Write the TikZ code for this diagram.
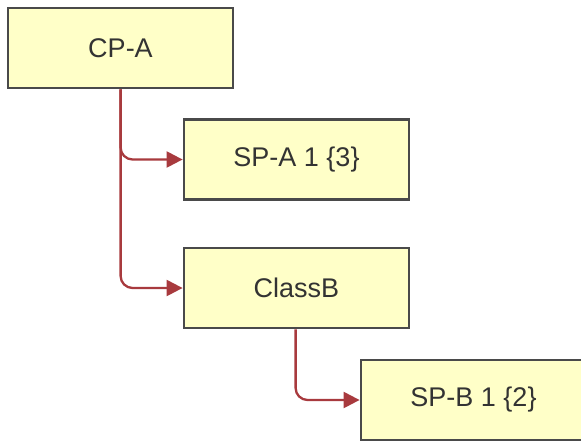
\documentclass[tikz,border=0pt]{standalone}
\usepackage{fontspec}
\setmainfont{Liberation Sans}
\usetikzlibrary{arrows.meta}
\definecolor{boxfill}{HTML}{FFFFC8}
\definecolor{boxline}{HTML}{4A4A4A}
\definecolor{conn}{HTML}{A83A3E}
\tikzset{
  classbox/.style={draw=boxline, line width=2.8pt, fill=boxfill, minimum width=225pt, minimum height=80pt, inner sep=0pt, font=\fontsize{27}{32}\selectfont, text=black!80},
  connector/.style={draw=conn, line width=2.3pt, rounded corners=12pt, -{Triangle[length=16pt,width=16pt]}}
}
\begin{document}
\begin{tikzpicture}[x=1pt,y=-1pt]
\useasboundingbox (0,0) rectangle (581,440);
\clip (0,0) rectangle (581,440);
\node[classbox] (cpa) at (120.5,48) {CP-A};
\node[classbox] (spa) at (296.5,159.5) {SP-A 1 \{3\}};
\node[classbox] (classb) at (296.5,288) {ClassB};
\node[classbox] (spb) at (473.5,400) {SP-B 1 \{2\}};
\draw[connector] ([xshift=114pt]cpa.south west) |- (spa.west);
\draw[connector] ([xshift=114pt]cpa.south west) |- (classb.west);
\draw[connector] ([xshift=113pt]classb.south west) |- (spb.west);
\end{tikzpicture}
\end{document}
